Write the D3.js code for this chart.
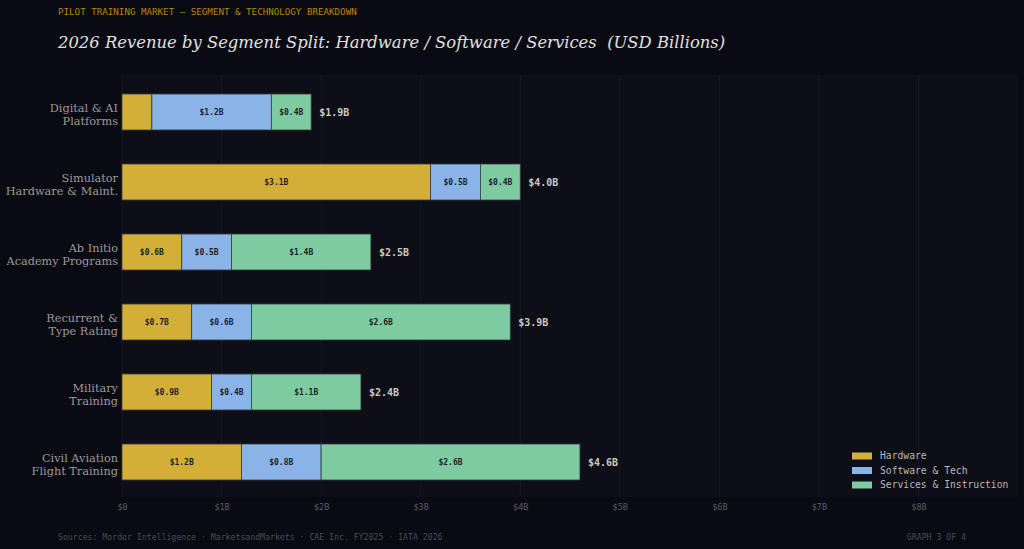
<!DOCTYPE html>
<html><head><meta charset="utf-8">
<script src="https://cdn.jsdelivr.net/npm/d3@7"></script>
<style>
html,body{margin:0;padding:0;background:#0a0b12;}
svg{display:block;}
</style></head>
<body>
<svg id="chart" width="1024" height="549"></svg>
<script>
const categories = [
  ["Digital & AI", "Platforms"],
  ["Simulator", "Hardware & Maint."],
  ["Ab Initio", "Academy Programs"],
  ["Recurrent &", "Type Rating"],
  ["Military", "Training"],
  ["Civil Aviation", "Flight Training"]
];
const hardware = [0.3, 3.1, 0.6, 0.7, 0.9, 1.2];
const software = [1.2, 0.5, 0.5, 0.6, 0.4, 0.8];
const services = [0.4, 0.4, 1.4, 2.6, 1.1, 2.6];
const totals   = [1.9, 4.0, 2.5, 3.9, 2.4, 4.6];
const seriesNames = ["Hardware", "Software & Tech", "Services & Instruction"];
const seriesColors = ["#d4af37", "#8ab4e8", "#7ecba1"];
const xTicks = [0, 1, 2, 3, 4, 5, 6, 7, 8];
const xTickLabels = ["$0", "$1B", "$2B", "$3B", "$4B", "$5B", "$6B", "$7B", "$8B"];

const svg = d3.select("#chart");
const W = 1024, H = 549;
const plot = {left: 122, right: 1018, top: 75, bottom: 497};
const mono = "'DejaVu Sans Mono', monospace";
const serif = "'DejaVu Serif', serif";

svg.append("rect").attr("width", W).attr("height", H).attr("fill", "#0a0b12");
svg.append("rect").attr("x", plot.left).attr("y", plot.top)
  .attr("width", plot.right - plot.left).attr("height", plot.bottom - plot.top)
  .attr("fill", "#0d0e16");

const x = d3.scaleLinear().domain([0, 9]).range([plot.left, plot.right]);
const y = d3.scaleBand().domain(d3.range(categories.length))
  .range([plot.top + 2, plot.bottom]).paddingInner(0.486).paddingOuter(0.243);

// grid
svg.append("g").selectAll("line").data(xTicks).join("line")
  .attr("x1", d => x(d)).attr("x2", d => x(d))
  .attr("y1", plot.top).attr("y2", plot.bottom)
  .attr("stroke", "#1a1c26").attr("stroke-width", 0.8);

// x axis
const xAxis = d3.axisBottom(x).tickValues(xTicks).tickFormat((d, i) => xTickLabels[i]).tickSize(0).tickPadding(7);
const gx = svg.append("g").attr("transform", `translate(0,${plot.bottom})`).call(xAxis);
gx.select(".domain").remove();
gx.selectAll("text").attr("fill", "#5a5a66").attr("font-family", mono).attr("font-size", 8.5);

// stacked data
const rows = categories.map((c, i) => ({i, Hardware: hardware[i], "Software & Tech": software[i], "Services & Instruction": services[i]}));
const stack = d3.stack().keys(seriesNames)(rows);

const gBars = svg.append("g");
stack.forEach((layer, si) => {
  const g = gBars.append("g");
  g.selectAll("rect").data(layer).join("rect")
    .attr("x", d => x(d[0])).attr("width", d => x(d[1]) - x(d[0]))
    .attr("y", d => y(d.data.i)).attr("height", y.bandwidth())
    .attr("fill", seriesColors[si])
    .attr("stroke", "#3a3c44").attr("stroke-width", 0.8);
  g.selectAll("text").data(layer.filter(d => d[1] - d[0] >= 0.35)).join("text")
    .attr("x", d => (x(d[0]) + x(d[1])) / 2)
    .attr("y", d => y(d.data.i) + y.bandwidth() / 2)
    .attr("dy", "0.35em").attr("text-anchor", "middle")
    .attr("font-family", mono).attr("font-weight", "bold").attr("font-size", 8)
    .attr("fill", "#1c1e2a")
    .text(d => "$" + (d[1] - d[0]).toFixed(1) + "B");
});

// totals
svg.append("g").selectAll("text").data(totals).join("text")
  .attr("x", (d, i) => x(d) + 8)
  .attr("y", (d, i) => y(i) + y.bandwidth() / 2)
  .attr("dy", "0.35em")
  .attr("font-family", mono).attr("font-weight", "bold").attr("font-size", 10)
  .attr("fill", "#c8c8c8")
  .text(d => "$" + d.toFixed(1) + "B");

// y labels
const yl = svg.append("g").selectAll("text").data(categories).join("text")
  .attr("x", plot.left - 4)
  .attr("y", (d, i) => y(i) + y.bandwidth() / 2)
  .attr("text-anchor", "end")
  .attr("font-family", serif).attr("font-size", 11.3)
  .attr("fill", "#9a9a9a");
yl.append("tspan").attr("x", plot.left - 4).attr("dy", 0).text(d => d[0]);
yl.append("tspan").attr("x", plot.left - 4).attr("dy", 13).text(d => d[1]);

// legend
const lg = svg.append("g").attr("transform", "translate(852,456)");
seriesNames.forEach((n, i) => {
  lg.append("rect").attr("x", 0).attr("y", i * 14.5 - 3.5).attr("width", 20).attr("height", 7)
    .attr("fill", seriesColors[i]);
  lg.append("text").attr("x", 28).attr("y", i * 14.5).attr("dy", "0.35em")
    .attr("font-family", mono).attr("font-size", 9.7).attr("fill", "#b8b8b8").text(n);
});

// header text
svg.append("text").attr("x", 58).attr("y", 15)
  .attr("font-family", mono).attr("font-size", 9.2).attr("fill", "#b8860b")
  .text("PILOT TRAINING MARKET — SEGMENT & TECHNOLOGY BREAKDOWN");
svg.append("text").attr("x", 58).attr("y", 48)
  .attr("font-family", serif).attr("font-style", "italic").attr("font-size", 16.4)
  .attr("fill", "#e0e0e0")
  .style("white-space", "pre")
  .text("2026 Revenue by Segment Split: Hardware / Software / Services  (USD Billions)");

// footer
svg.append("text").attr("x", 58).attr("y", 540)
  .attr("font-family", mono).attr("font-size", 8.2).attr("fill", "#4a4a54")
  .text("Sources: Mordor Intelligence · MarketsandMarkets · CAE Inc. FY2025 · IATA 2026");
svg.append("text").attr("x", 966).attr("y", 540).attr("text-anchor", "end")
  .attr("font-family", mono).attr("font-size", 8.2).attr("fill", "#4a4a54")
  .text("GRAPH 3 OF 4");
</script>
</body></html>
